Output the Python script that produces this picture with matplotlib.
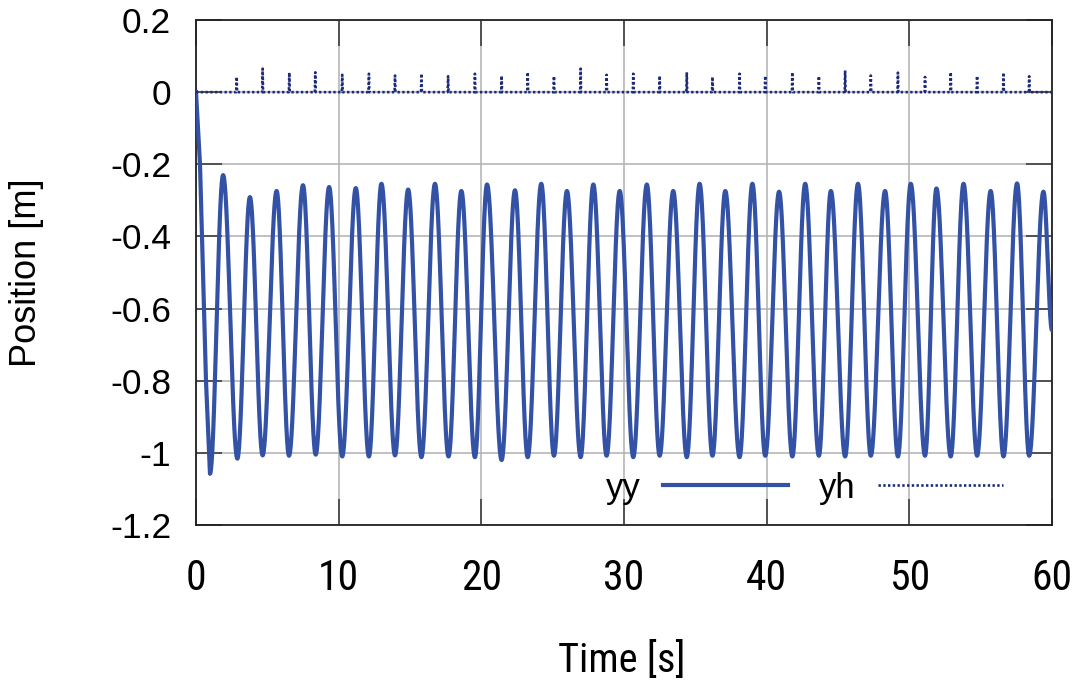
import numpy as np
import matplotlib
matplotlib.use("Agg")
import matplotlib.pyplot as plt
from matplotlib import font_manager

# ---------------- data ----------------
# initial descent of yy
init_t = [0.0, 0.28, 0.70]
init_v = [0.0, -0.20, -0.80]

# troughs of yy
trough_t = [0.98, 2.9, 4.67, 6.52, 8.39, 10.25, 12.12, 13.95, 15.8, 17.7, 19.55,
            21.42, 23.25, 25.09, 26.96, 28.78, 30.65, 32.5, 34.4, 36.2, 38.1,
            39.9, 41.8, 43.66, 45.5, 47.3, 49.2, 51.1, 52.9, 54.75, 56.6, 58.4]
trough_v = [-1.058, -1.016, -1.007, -1.008, -1.005, -1.010, -1.010, -1.007, -1.012,
            -1.010, -1.012, -1.020, -1.012, -1.008, -1.012, -1.008, -1.012, -1.008,
            -1.012, -1.008, -1.012, -1.008, -1.010, -1.008, -1.010, -1.008, -1.010,
            -1.008, -1.010, -1.008, -1.010, -1.008]

# peaks of yy
peak_t = [1.9, 3.78, 5.65, 7.5, 9.33, 11.2, 13.0, 14.87, 16.75, 18.6, 20.4,
          22.36, 24.2, 26.0, 27.85, 29.7, 31.6, 33.45, 35.3, 37.1, 39.0,
          40.87, 42.7, 44.5, 46.4, 48.3, 50.1, 51.9, 53.8, 55.7, 57.55, 59.4]
peak_v = [-0.230, -0.291, -0.274, -0.258, -0.263, -0.266, -0.254, -0.270, -0.254,
          -0.274, -0.256, -0.272, -0.254, -0.274, -0.256, -0.274, -0.256, -0.274,
          -0.254, -0.274, -0.254, -0.276, -0.254, -0.274, -0.254, -0.274, -0.254,
          -0.267, -0.254, -0.274, -0.253, -0.276]

end_t = 60.0
end_v = -0.66

# spikes of yh (at the troughs after the first)
spike_t = [2.85, 4.67, 6.54, 8.36, 10.25, 12.12, 13.95, 15.8, 17.67, 19.55,
           21.42, 23.25, 25.09, 26.96, 28.78, 30.65, 32.5, 34.4, 36.2, 38.1,
           39.9, 41.8, 43.66, 45.5, 47.3, 49.2, 51.1, 52.9, 54.75, 56.6, 58.4]
spike_v = [0.042, 0.065, 0.054, 0.055, 0.048, 0.051, 0.046, 0.051, 0.044, 0.051,
           0.045, 0.055, 0.044, 0.065, 0.048, 0.051, 0.045, 0.055, 0.042, 0.051,
           0.045, 0.055, 0.044, 0.060, 0.046, 0.054, 0.042, 0.055, 0.045, 0.054,
           0.044]

x_ticks = [0, 10, 20, 30, 40, 50, 60]
y_ticks = [0.2, 0, -0.2, -0.4, -0.6, -0.8, -1, -1.2]
y_tick_labels = ["0.2", "0", "-0.2", "-0.4", "-0.6", "-0.8", "-1", "-1.2"]
x_label = "Time [s]"
y_label = "Position [m]"
series_names = ["yy", "yh"]

# ---------------- build curves ----------------
nodes_t = []
nodes_v = []
for a, b in zip(trough_t, trough_v):
    nodes_t.append(a); nodes_v.append(b)
for a, b in zip(peak_t, peak_v):
    nodes_t.append(a); nodes_v.append(b)
order = np.argsort(nodes_t)
nodes_t = list(np.array(nodes_t)[order]) + [end_t]
nodes_v = list(np.array(nodes_v)[order]) + [end_v]

yy_t = list(init_t)
yy_v = list(init_v)
for i in range(len(nodes_t) - 1):
    t0, t1 = nodes_t[i], nodes_t[i + 1]
    v0, v1 = nodes_v[i], nodes_v[i + 1]
    s = np.linspace(0, 1, 40, endpoint=False)
    yy_t.extend(t0 + (t1 - t0) * s)
    yy_v.extend(v0 + (v1 - v0) * (1 - np.cos(np.pi * s)) / 2)
yy_t.append(nodes_t[-1]); yy_v.append(nodes_v[-1])

yh_t = [0.0]
yh_v = [0.0]
for t, h in zip(spike_t, spike_v):
    yh_t += [t - 0.03, t, t + 0.03]
    yh_v += [0.0, h, 0.0]
yh_t.append(60.0); yh_v.append(0.0)

# ---------------- fonts ----------------
ttf = font_manager.fontManager.ttflist
names = {f.name for f in ttf}
main_font = "Liberation Sans" if "Liberation Sans" in names else "DejaVu Sans"
narrow_kw = {"family": [main_font, "DejaVu Sans"]}
for cand in ["Liberation Sans Narrow", "Arial Narrow", "Roboto Condensed",
             "Open Sans Condensed"]:
    if cand in names:
        narrow_kw = {"family": [cand, "DejaVu Sans"]}
        break
else:
    cond = [f for f in ttf if str(f.stretch) in ("condensed", "semi-condensed",
                                                  "extra-condensed", "500", "300", "400")
            and f.style == "normal" and f.weight in (400, "normal", "regular")]
    for f in cond:
        if f.name in ("Liberation Sans", "DejaVu Sans", "Roboto", "Open Sans", "Noto Sans"):
            narrow_kw = {"family": [f.name, "DejaVu Sans"], "stretch": f.stretch}
            break
plt.rcParams["font.family"] = [main_font, "DejaVu Sans"]

# ---------------- figure ----------------
fig = plt.figure(figsize=(10.8, 6.82), dpi=100)
ax = fig.add_axes([196 / 1080, 1 - 525 / 682, (1052 - 196) / 1080, (525 - 20) / 682])

ax.plot(yy_t, yy_v, color="#3352a5", lw=3.0, label=series_names[0], zorder=3,
        solid_joinstyle="round")
ax.plot(yh_t, yh_v, color="#1c2a78", lw=1.9, linestyle=(0, (0.9, 0.9)),
        label=series_names[1], zorder=4)

ax.set_xlim(0, 60)
ax.set_ylim(-1.2, 0.2)
ax.set_xticks(x_ticks)
ax.set_yticks(y_ticks)
ax.set_yticklabels(y_tick_labels)
ax.grid(True, color="#b0b0b0", lw=1.1)
ax.set_axisbelow(True)
ax.tick_params(axis="both", direction="in", length=19, width=1.1, color="#333333",
               top=True, right=True)
ax.tick_params(axis="y", labelsize=25.5, pad=18)
ax.tick_params(axis="x", labelsize=30, pad=24)
for lab in ax.get_xticklabels():
    lab.set(**narrow_kw)
for sp in ax.spines.values():
    sp.set_linewidth(1.3)
    sp.set_color("#222222")

ax.set_xlabel(x_label, fontsize=29, va="center", **narrow_kw)
ax.xaxis.set_label_coords((622 - 196) / 856, (525 - 660) / 505)
ax.set_ylabel(y_label, fontsize=26, va="center")
ax.yaxis.set_label_coords((27 - 196) / 856, 0.5)

leg = ax.legend(loc="center right", bbox_to_anchor=(0.943, 0.073), ncol=2,
                markerfirst=False, frameon=False, fontsize=25, handlelength=3.6,
                handletextpad=0.65, columnspacing=0.9, borderpad=0, borderaxespad=0)

fig.savefig("out.png", dpi=100)
